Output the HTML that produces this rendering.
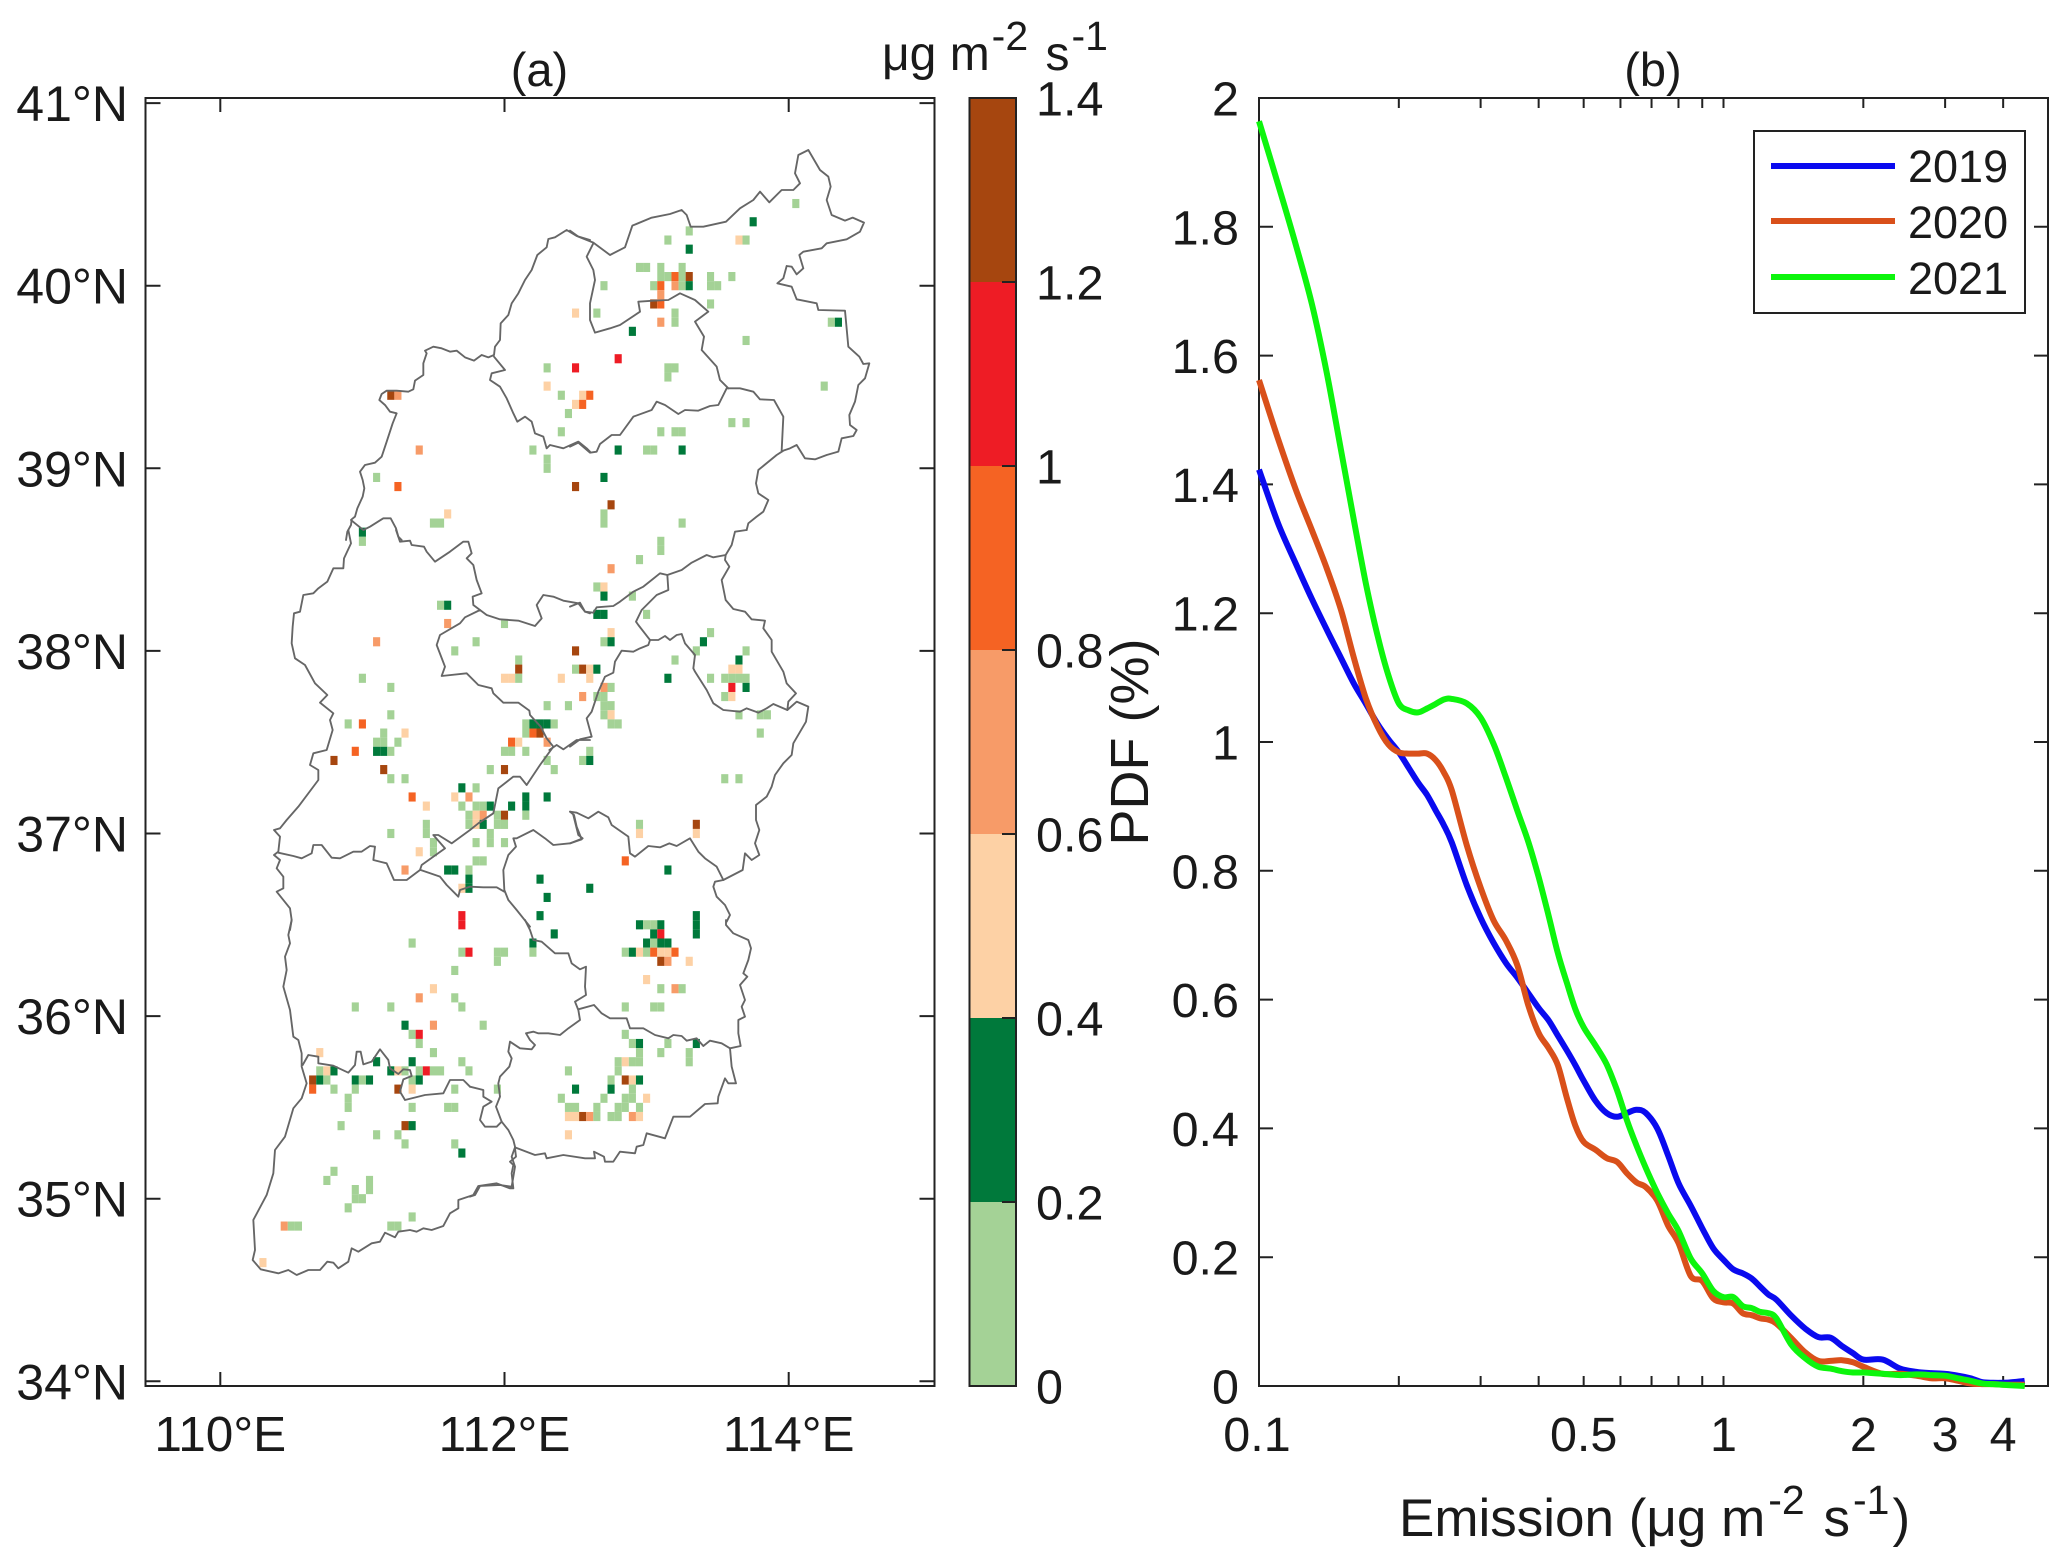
<!DOCTYPE html>
<html lang="en">
<head>
<meta charset="utf-8">
<title>Emission map and PDF</title>
<style>
html,body{margin:0;padding:0;background:#fff}
svg{display:block}
text{font-family:"Liberation Sans",sans-serif;fill:#1a1a1a}
</style>
</head>
<body>
<svg id="fig" xmlns="http://www.w3.org/2000/svg" width="2067" height="1565" viewBox="0 0 2067 1565">
  <rect width="2067" height="1565" fill="#fff"/>

  <g id="cell-layer"></g>

  <g fill="none" stroke="#666" stroke-width="5.6" stroke-linejoin="round" stroke-linecap="round">
    <g transform="translate(270 140) scale(.33333)">
      <polyline points="228,1200 232,1175 243,1155 245,1138 255,1130 262,1105 278,1070 283,1045 278,1020 270,995 285,975 315,968 335,950 350,905 368,850 380,820 360,815 345,795 328,780 335,762 350,752 380,752 415,755 430,748 435,722 460,705 460,670 470,640 465,632 490,620 515,625 540,635 560,632 585,652 612,662 635,645 655,652 672,645 675,620 690,600 692,550 715,525 725,490 745,460 765,420 785,390 802,345 830,322 835,297 855,292 890,270 920,288 960,300"/>
      <polyline points="243,1140 255,1150 280,1170 300,1160 340,1135 362,1135 378,1165 385,1190 395,1200"/>
      <polyline points="672,650 705,690 665,700 660,720 690,740 710,775 730,820 742,845 765,830 785,845 795,880 820,890 830,925 840,915 880,925 925,905 950,925 960,935"/>
    </g>
    <g transform="translate(570 140) scale(.33333)">
      <polyline points="0,272 25,290 70,308 120,345 165,322 187,257 245,233 300,222 335,210 350,225 362,260 400,260 468,245 510,205 550,180 570,155 598,187 635,150 670,150 690,130 675,100 685,45 715,30 750,90 775,110 782,140 770,180 785,225 825,242 848,233 882,248 870,275 830,298 770,310 755,325 700,335 688,345 700,385 680,403 665,380 650,378 640,415 622,430 665,440 680,478 740,490 745,510 825,512 835,620 868,650 880,672 898,670 885,715 865,735 855,785 838,825 840,855 860,870 850,888 815,895 805,935 770,945 735,958 705,955 680,915 660,925 640,932 620,945 565,990 558,1030 565,1060 595,1080 580,1115 560,1130 535,1150 530,1170"/>
      <polyline points="0,920 25,908 60,938 80,935 90,912 125,885 150,885 190,830 245,810 260,785 285,795 325,822 345,810 385,812 420,798 445,795 470,745 510,745 550,755 570,778 612,780 640,830 635,932"/>
      <polyline points="70,310 50,350 70,390 75,420 60,490 60,540 75,578 120,565 150,555 210,515 205,485 250,482 295,480 330,460 375,480 415,515 375,545 402,590 395,630 440,680 450,720 475,745"/>
    </g>
    <g transform="translate(570 530) scale(.33333)">
      <polyline points="530,0 495,5 485,45 467,75 465,90 478,110 455,150 467,210 490,237 525,245 545,268 585,272 580,295 605,330 605,365 640,425 650,460 678,490 655,515 652,540 680,515 715,530 708,575 670,640 665,675 640,700 615,735 605,770 590,800 558,825 558,870 568,900 555,940 568,975 545,990 525,970 518,1020 460,1050 435,1055 430,1070 440,1100 465,1125 480,1155 470,1175"/>
      <polyline points="652,540 610,522 590,535 565,548 530,535 510,545 460,540 430,520 410,480 375,425 370,415 375,375 345,340 335,312 320,315 300,330 285,318 265,330 240,330 205,285 198,275 215,240 260,195 295,180 292,135 270,130 245,150 220,170 190,185 150,215 130,228 80,232 70,248 45,245 30,218 0,230"/>
      <polyline points="467,75 430,82 410,75 365,98 335,120 292,135"/>
      <polyline points="240,330 235,345 210,355 190,365 155,362 135,395 130,428 105,440 85,485 65,545 50,565 65,620 30,628 0,650"/>
      <polyline points="0,845 20,848 55,865 85,845 115,862 125,885 175,920 180,970 195,980 235,948 270,952 298,940 320,948 360,925 385,965 405,985 440,1010 460,1050"/>
      <polyline points="0,940 35,928 20,890 12,855 0,845"/>
    </g>
    <g transform="translate(270 530) scale(.33333)">
      <polyline points="235,0 243,40 222,85 220,115 190,115 172,155 145,175 130,190 100,195 90,245 72,250 68,290 65,340 75,385 105,405 135,460 172,495 150,518 190,550 180,570 188,600 170,660 130,670 120,705 145,720 145,750 85,830 50,870 30,895 12,900 30,920 25,965 12,975 30,990 20,1015 40,1040 40,1075 20,1085 60,1135 65,1170 60,1200"/>
      <polyline points="25,968 70,978 95,985 125,970 130,945 155,945 185,983 210,985 250,965 275,965 300,948 315,950 310,990 350,1000 372,1050 410,1050 450,1020 455,1005 525,955 490,915 505,915 545,940 600,900 625,880 670,850 685,775 730,740 750,740 770,765 810,705 850,650 830,625 812,590 780,555 778,542 745,518 700,518 670,490 665,475 625,465 590,430 515,438 525,410 500,345 510,315 570,280 585,262 630,240 650,255 690,268 745,272 795,288 815,265 800,225 820,195 850,200 880,212 925,220 945,245 960,250"/>
      <polyline points="630,240 610,225 608,200 635,190 620,150 610,105 590,85 605,70 595,35 580,35 540,65 495,95 470,65 462,50 425,45 420,32 390,35 378,0"/>
      <polyline points="838,660 860,645 880,658 920,630 960,630"/>
      <polyline points="910,855 925,915 938,925 900,940 850,945 825,925 790,900 740,925 730,925 738,950 715,975 700,1020 703,1080 715,1110 740,1140 780,1190"/>
      <polyline points="452,1020 510,1040 530,1065 565,1100 570,1080 600,1070 640,1072 680,1072 703,1085"/>
    </g>
    <g transform="translate(470 920) scale(.33333)">
      <polyline points="165,0 180,30 190,60 215,65 255,100 295,100 305,130 330,148 348,140 345,200 348,225 315,245 325,270 330,300 295,325 270,345 235,340 205,340 190,335 168,340 180,360 195,375 185,388 150,385 120,365 115,395 125,415 118,440 90,470 85,490 90,530 78,560 95,605 115,630 130,660 135,680"/>
      <polyline points="325,268 372,255 395,280 420,295 470,295 480,325 520,325 555,345 595,355 610,345 635,348 650,362 680,355 700,378 720,362 755,370 780,385 812,378 805,340 805,300 825,290 815,260 825,240 810,195 832,170 820,160 835,120 843,85 835,60 790,40 768,15 768,0"/>
      <polyline points="780,385 785,440 798,490 775,490 765,475 745,530 743,550 705,552 660,590 610,590 585,655 530,640 520,675 500,680 495,700 450,695 430,725 405,725 402,710 372,695 375,715 345,715 280,705 230,715 225,700 195,705 135,682"/>
      <polyline points="135,682 125,710 135,740 125,800 90,795 30,798 15,825 0,830"/>
      <polyline points="0,500 40,510 40,530 65,545 40,560 30,600 45,620 80,620 95,605"/>
    </g>
    <g transform="translate(240 920) scale(.33333)">
      <polyline points="155,0 145,45 150,70 135,110 140,150 130,200 150,270 160,350 175,360 185,400 185,440 200,490 185,535 160,565 135,650 105,690 100,760 80,825 40,900 45,990 38,1020 62,1048 115,1060 145,1050 170,1065 205,1050 240,1050 262,1025 280,1028 295,1045 325,1025 335,985 355,995 395,970 420,965 435,938 465,952 475,935 510,930 530,935 550,925 575,930 610,918 630,880 655,865 655,840 700,825 715,798 770,790 810,805 820,805 815,760 820,735 810,725 828,710 825,685"/>
      <polyline points="188,435 205,405 235,410 235,430 280,437 325,458 345,435 350,395 362,395 370,433 395,425 420,388 445,420 450,445 475,462 490,448 510,450 515,468 490,478 480,515 495,540 555,525 610,520 630,480 670,480 690,500"/>
    </g>
  </g>

  <g id="map-axes"></g>
  <g id="colorbar"></g>
  <g id="pdf-axes"></g>
  <g id="pdf-lines"></g>

  <text x="539.5" y="86" font-size="47" text-anchor="middle">(a)</text>
  <text x="1653" y="86" font-size="47" text-anchor="middle">(b)</text>
  <text x="882" y="70" font-size="48">μg m<tspan font-size="41" dy="-20" dx="2">-2</tspan><tspan dy="20" dx="4"> s</tspan><tspan font-size="41" dy="-20" dx="2">-1</tspan></text>
  <text x="1399" y="1536" font-size="53">Emission (μg m<tspan font-size="41" dy="-22" dx="3">-2</tspan><tspan dy="22" dx="4"> s</tspan><tspan font-size="41" dy="-22" dx="3">-1</tspan><tspan dy="22" dx="3">)</tspan></text>
  <text transform="translate(1148 742) rotate(-90)" font-size="54" text-anchor="middle">PDF (%)</text>

  <g>
    <rect x="1754" y="131" width="271" height="182" fill="#fff" stroke="#222" stroke-width="2"/>
    <line x1="1771" x2="1895" y1="166" y2="166" stroke="#0a0aef" stroke-width="6"/>
    <text x="1908" y="182" font-size="45">2019</text>
    <line x1="1771" x2="1895" y1="221" y2="221" stroke="#d9501a" stroke-width="6"/>
    <text x="1908" y="238" font-size="45">2020</text>
    <line x1="1771" x2="1895" y1="277" y2="277" stroke="#0df50d" stroke-width="6"/>
    <text x="1908" y="294" font-size="45">2021</text>
  </g>
</svg>

<script>
// ---- Map data: [longitude, latitude, emission]
const cells=[
[114.05,40.45,.1],[113.75,40.35,.3],[113.3,40.3,.1],[113.15,40.25,.1],[113.65,40.25,.5],[113.7,40.25,.1],[113.3,40.2,.3],
[112.95,40.1,.1],[113,40.1,.1],[113.1,40.1,.1],[113.25,40.1,.1],
[113.1,40.05,.1],[113.15,40.05,.1],[113.2,40.05,.9],[113.25,40.05,.1],[113.3,40.05,1.3],[113.45,40.05,.1],[113.6,40.05,.1],
[112.7,40,.1],[113.05,40,.1],[113.1,40,.9],[113.2,40,.7],[113.25,40,.1],[113.3,40,.3],[113.45,40,.1],[113.5,40,.1],
[113.1,39.95,.7],[113.05,39.9,1.3],[113.1,39.9,.9],[113.45,39.9,.1],
[112.5,39.85,.5],[112.65,39.85,.1],[113.2,39.85,.1],[113.1,39.8,.7],[113.2,39.8,.1],[114.3,39.8,.1],[114.35,39.8,.3],
[112.9,39.75,.3],[113.7,39.7,.1],[112.8,39.6,1.1],[112.3,39.55,.1],[112.5,39.55,1.1],[113.15,39.55,.1],[113.2,39.55,.1],[113.15,39.5,.1],
[112.3,39.45,.5],[114.25,39.45,.1],[111.2,39.4,1.3],[111.25,39.4,.7],[112.4,39.4,.1],[112.55,39.4,.5],[112.6,39.4,.9],
[112.5,39.35,.5],[112.55,39.35,.9],[112.45,39.3,.1],[113.6,39.25,.1],[113.7,39.25,.1],
[112.4,39.2,.1],[113.1,39.2,.1],[113.2,39.2,.1],[113.25,39.2,.1],
[111.4,39.1,.7],[112.2,39.1,.1],[112.8,39.1,.3],[113,39.1,.1],[113.05,39.1,.1],[113.25,39.1,.3],
[112.3,39.05,.1],[112.3,39,.1],[111.1,38.95,.1],[112.7,38.95,.3],[111.25,38.9,.9],[112.5,38.9,1.3],
[112.75,38.8,1.3],[111.6,38.75,.5],[112.7,38.75,.1],[111.5,38.7,.1],[111.55,38.7,.1],[112.7,38.7,.1],[113.25,38.7,.1],
[111,38.65,.3],[111,38.6,.1],[113.1,38.6,.1],[113.1,38.55,.1],[112.95,38.5,.1],[112.75,38.45,.7],
[112.65,38.35,.1],[112.7,38.35,.5],[112.7,38.3,.3],[112.9,38.3,.1],
[111.55,38.25,.1],[111.6,38.25,.3],[112.65,38.2,.3],[112.7,38.2,.3],[113,38.2,.1],
[111.6,38.15,.7],[112,38.15,.1],[112.75,38.1,.5],[113.45,38.1,.1],
[111.1,38.05,.7],[111.8,38.05,.1],[112.7,38.05,.1],[112.75,38.05,.3],[113.4,38.05,.3],
[111.65,38,.1],[112.5,38,1.3],[113.35,38,.1],[113.7,38,.1],
[112.1,37.95,.1],[113.2,37.95,.1],[113.65,37.95,.3],
[112.1,37.9,1.3],[112.5,37.9,.1],[112.55,37.9,1.3],[112.6,37.9,.5],[112.65,37.9,.3],[113.6,37.9,.5],[113.65,37.9,.5],
[111,37.85,.1],[112,37.85,.5],[112.05,37.85,.5],[112.1,37.85,.1],[112.4,37.85,.5],[112.6,37.85,.5],[113.15,37.85,.3],[113.45,37.85,.1],[113.55,37.85,.1],[113.6,37.85,.1],[113.65,37.85,.1],[113.7,37.85,.1],
[111.2,37.8,.1],[112.7,37.8,.7],[112.75,37.8,.1],[113.6,37.8,1.1],[113.7,37.8,.3],
[112.55,37.75,.7],[112.65,37.75,.1],[112.7,37.75,.1],[113.55,37.75,.1],[113.6,37.75,.5],
[112.3,37.7,.1],[112.45,37.7,.1],[112.7,37.7,.1],[112.75,37.7,.1],
[111.2,37.65,.1],[112.7,37.65,.1],[112.75,37.65,.5],[113.65,37.65,.1],[113.8,37.65,.1],[113.85,37.65,.1],
[110.9,37.6,.1],[111,37.6,.9],[112.15,37.6,.1],[112.2,37.6,.3],[112.25,37.6,.3],[112.3,37.6,.3],[112.35,37.6,.1],[112.75,37.6,.1],[112.8,37.6,.1],
[111.15,37.55,.1],[111.3,37.55,.5],[112.15,37.55,.1],[112.2,37.55,.9],[112.25,37.55,1.3],[113.8,37.55,.1],
[111.1,37.5,.1],[111.15,37.5,.1],[111.25,37.5,.1],[112.05,37.5,.9],[112.1,37.5,.5],[112.3,37.5,.7],
[110.95,37.45,.9],[111.1,37.45,.3],[111.15,37.45,.3],[111.2,37.45,.1],[112,37.45,.1],[112.05,37.45,.1],[112.15,37.45,.1],[112.6,37.45,.1],
[110.8,37.4,1.3],[112.3,37.4,.1],[112.55,37.4,.1],[112.6,37.4,.3],
[111.15,37.35,1.3],[111.9,37.35,.1],[112,37.35,1.3],[112.35,37.35,.1],
[111.2,37.3,.1],[111.3,37.3,.1],[113.55,37.3,.1],[113.65,37.3,.1],
[111.7,37.25,.3],[111.8,37.25,.1],
[111.35,37.2,.9],[111.65,37.2,.5],[111.75,37.2,.7],[112.15,37.2,.3],[112.3,37.2,.3],
[111.45,37.15,.5],[111.7,37.15,.1],[111.8,37.15,.1],[111.85,37.15,.1],[111.9,37.15,.3],[112.05,37.15,.3],[112.15,37.15,.3],
[111.75,37.1,.1],[111.8,37.1,.5],[111.85,37.1,.7],[111.95,37.1,.1],[112,37.1,1.3],[112.15,37.1,.1],
[111.45,37.05,.1],[111.75,37.05,.1],[111.8,37.05,.5],[111.85,37.05,.3],[111.95,37.05,.1],[112,37.05,.1],[112.95,37.05,.1],[113.35,37.05,1.3],
[111.2,37,.1],[111.45,37,.1],[111.9,37,.1],[112.95,37,.5],[113.35,37,.5],
[111.5,36.95,.1],[111.8,36.95,.1],[111.9,36.95,.1],[112,36.95,.1],
[111.4,36.9,.5],[111.5,36.9,.1],[111.8,36.85,.1],[111.85,36.85,.1],[112.85,36.85,.9],
[111.3,36.8,.7],[111.6,36.8,.3],[111.65,36.8,.3],[111.75,36.8,.1],[113.15,36.8,.3],
[111.75,36.75,.3],[112.25,36.75,.3],[111.7,36.7,.5],[111.75,36.7,.3],[112.6,36.7,.3],[112.3,36.65,.3],
[111.7,36.55,1.1],[112.25,36.55,.3],[113.35,36.55,.3],
[111.7,36.5,1.1],[112.95,36.5,.3],[113,36.5,.1],[113.05,36.5,.1],[113.1,36.5,.3],[113.35,36.5,.3],
[112.35,36.45,.3],[113.05,36.45,.3],[113.1,36.45,1.1],[113.35,36.45,.3],
[111.35,36.4,.1],[112.2,36.4,.3],[113,36.4,.3],[113.05,36.4,.1],[113.1,36.4,.3],[113.15,36.4,.3],
[111.7,36.35,.1],[111.75,36.35,1.1],[111.95,36.35,.1],[112,36.35,.1],[112.2,36.35,.1],[112.85,36.35,.1],[112.9,36.35,.3],[112.95,36.35,.5],[113,36.35,.1],[113.05,36.35,.9],[113.1,36.35,.5],[113.15,36.35,.5],[113.2,36.35,.9],
[111.95,36.3,.1],[113.1,36.3,1.3],[113.15,36.3,.7],[113.3,36.3,.5],
[111.65,36.25,.1],[111.5,36.15,.5],[113,36.2,.5],[113.1,36.15,.1],[113.2,36.15,.7],[113.25,36.15,.1],
[111.4,36.1,.7],[111.65,36.1,.1],
[110.95,36.05,.1],[111.2,36.05,.1],[111.7,36.05,.1],[112.85,36.05,.1],[113.05,36.05,.1],[113.1,36.05,.1],
[111.3,35.95,.3],[111.5,35.95,.7],[111.85,35.95,.1],
[111.35,35.9,.1],[111.4,35.9,1.1],[112.85,35.9,.1],
[111.4,35.85,.1],[112.9,35.85,.1],[112.95,35.85,.3],[113.15,35.85,.1],[113.35,35.85,.3],
[110.7,35.8,.5],[111.5,35.8,.1],[112.95,35.8,.1],[113.1,35.8,.1],[113.3,35.8,.1],
[111.1,35.75,.3],[111.35,35.75,.3],[111.7,35.75,.1],[112.8,35.75,.1],[112.85,35.75,.5],[112.9,35.75,.1],[112.95,35.75,.1],[113.3,35.75,.1],
[110.7,35.7,.1],[110.75,35.7,.5],[110.8,35.7,.3],[111.2,35.7,.3],[111.25,35.7,.5],[111.3,35.7,.1],[111.4,35.7,.1],[111.45,35.7,1.1],[111.5,35.7,.1],[111.55,35.7,.1],[111.75,35.7,.1],[112.45,35.7,.1],[112.8,35.7,.1],
[110.65,35.65,1.3],[110.7,35.65,.3],[110.75,35.65,.1],[110.95,35.65,.3],[111,35.65,.1],[111.05,35.65,.3],[111.35,35.65,.1],[111.4,35.65,.3],[112.75,35.65,.1],[112.85,35.65,1.3],[112.9,35.65,.5],[112.95,35.65,.3],
[110.65,35.6,.9],[110.8,35.6,.1],[110.95,35.6,.1],[111.25,35.6,1.3],[111.35,35.6,.5],[111.65,35.6,.1],[111.95,35.6,.1],[112.5,35.6,.3],[112.75,35.6,.3],[112.9,35.6,.1],
[110.9,35.55,.1],[112.4,35.55,.1],[112.7,35.55,.1],[112.85,35.55,.1],[112.9,35.55,.1],[113,35.55,.5],
[110.9,35.5,.1],[111.35,35.5,.1],[111.6,35.5,.1],[111.65,35.5,.1],[112.45,35.5,.1],[112.5,35.5,.1],[112.65,35.5,.1],[112.8,35.5,.1],[112.85,35.5,.1],[112.95,35.5,.1],
[112.45,35.45,.5],[112.5,35.45,.5],[112.55,35.45,1.3],[112.6,35.45,.7],[112.65,35.45,.1],[112.75,35.45,.1],[112.8,35.45,.1],[112.9,35.45,.7],[112.95,35.45,.5],
[110.85,35.4,.1],[111.3,35.4,1.3],[111.35,35.4,.3],
[111.1,35.35,.1],[111.25,35.35,.1],[112.45,35.35,.5],
[111.3,35.3,.1],[111.65,35.3,.1],[111.7,35.25,.3],
[110.8,35.15,.1],[110.75,35.1,.1],[111.05,35.1,.1],[110.95,35.05,.1],[111.05,35.05,.1],
[110.95,35,.1],[111,35,.1],[110.9,34.95,.1],[111.35,34.9,.1],
[110.45,34.85,.7],[110.5,34.85,.1],[110.55,34.85,.1],[111.2,34.85,.1],[111.25,34.85,.1],
[110.3,34.65,.5]
];
const lonTicks=[110,112,114];
const latTicks=[34,35,36,37,38,39,40,41];
const colorLevels=[0,0.2,0.4,0.6,0.8,1,1.2,1.4];
const colorStops=['#a4d296','#00793b','#fdd1a5','#f79b68','#f56323','#ee1c25','#a6460f'];

// ---- PDF data
const emission=[0.1,0.11,0.12,0.13,0.14,0.15,0.16,0.17,0.18,0.19,0.2,0.21,0.22,0.23,0.24,0.25,0.26,0.28,0.3,0.32,0.34,0.36,0.38,0.4,0.42,0.44,0.46,0.48,0.5,0.53,0.56,0.59,0.62,0.65,0.68,0.72,0.76,0.8,0.85,0.9,0.95,1,1.05,1.1,1.15,1.2,1.25,1.3,1.4,1.5,1.6,1.7,1.8,1.9,2,2.2,2.4,2.6,2.8,3,3.2,3.4,3.6,3.8,4,4.2,4.45];
const pdf2019=[1.423,1.339,1.277,1.222,1.174,1.131,1.091,1.059,1.028,1.004,.984,.96,.937,.918,.894,.871,.844,.778,.727,.688,.657,.634,.61,.587,.568,.544,.521,.498,.474,.443,.424,.418,.424,.429,.424,.4,.358,.315,.28,.245,.214,.196,.181,.175,.167,.154,.142,.134,.109,.089,.076,.075,.062,.051,.041,.041,.027,.022,.02,.019,.016,.012,.006,.005,.005,.006,.008];
const pdf2020=[1.562,1.47,1.392,1.329,1.269,1.206,1.131,1.067,1.024,.996,.984,.982,.982,.982,.972,.953,.925,.84,.774,.723,.692,.653,.591,.548,.525,.498,.447,.404,.379,.367,.354,.348,.33,.316,.309,.288,.249,.222,.171,.163,.136,.13,.128,.113,.11,.105,.103,.097,.074,.052,.039,.039,.04,.037,.03,.019,.019,.016,.012,.012,.008,.004,.003,.003,.002,.002,.002];
const pdf2021=[1.964,1.865,1.772,1.68,1.572,1.455,1.345,1.245,1.165,1.103,1.06,1.049,1.046,1.052,1.059,1.066,1.067,1.06,1.038,.997,.945,.893,.845,.79,.731,.672,.626,.585,.557,.529,.5,.459,.412,.373,.339,.3,.268,.241,.198,.175,.148,.138,.138,.124,.121,.115,.113,.105,.064,.043,.03,.027,.023,.021,.021,.019,.017,.018,.017,.016,.012,.008,.004,.003,.002,.001,0];
const emissionTicks=[0.1,0.5,1,2,3,4];
const emissionMinorTicks=[0.2,0.3,0.4,0.5,0.6,0.7,0.8,0.9,1,2,3,4];
const pdfTicks=[0,0.2,0.4,0.6,0.8,1,1.2,1.4,1.6,1.8,2];

// ---- Axis functions
const mapLeft=145.5,mapRight=934.5,plotTop=98,plotBottom=1386;
const lonX=v=>220.3+(v-110)*142.1;
const latY=v=>285.7+(40-v)*182.6;
const cbLeft=969.5,cbRight=1016;
const cbY=v=>plotBottom-v*920;
const pdfLeft=1259,pdfRight=2048;
const emX=v=>1723.5+464.5*Math.log10(v);
const pdfY=v=>plotBottom-v*644;
const SVGNS='http://www.w3.org/2000/svg';

function mk(parent,tag,attrs,txt){
  const el=document.createElementNS(SVGNS,tag);
  for(const k in attrs)el.setAttribute(k,attrs[k]);
  if(txt!==undefined)el.textContent=txt;
  parent.appendChild(el);
  return el;
}
function colorFor(v){
  for(let i=0;i<colorStops.length;i++){if(v<colorLevels[i+1])return colorStops[i];}
  return colorStops[colorStops.length-1];
}

// Map cells
const cellLayer=document.getElementById('cell-layer');
cells.forEach(c=>{
  const w=lonX(0.05+110)-lonX(110),h=latY(40)-latY(40.05);
  const el=mk(cellLayer,'rect',{x:lonX(c[0])-w/2,y:latY(c[1])-h/2,width:w,height:h,fill:colorFor(c[2])});
  
  
});

// Map axes
const mapAxes=document.getElementById('map-axes');
const mapFrame=mk(mapAxes,'rect',{x:mapLeft,y:plotTop,width:mapRight-mapLeft,height:plotBottom-plotTop,fill:'none',stroke:'#222','stroke-width':2});


lonTicks.forEach(v=>{
  const x=lonX(v);
  const a=mk(mapAxes,'path',{d:`M${x} ${plotBottom}v-14M${x} ${plotTop}v14`,stroke:'#222','stroke-width':2,fill:'none'});
  
  
  const t=mk(mapAxes,'text',{x:x,y:1451,'font-size':49.5,'text-anchor':'middle'},v+'°E');
  
  
});
latTicks.forEach(v=>{
  const y=latY(v);
  const a=mk(mapAxes,'path',{d:`M${mapLeft} ${y}h15M${mapRight} ${y}h-15`,stroke:'#222','stroke-width':2,fill:'none'});
  
  
  const t=mk(mapAxes,'text',{x:128,y:y+18,'font-size':50,'text-anchor':'end'},v+'°N');
  
  
});

// Colorbar
const cb=document.getElementById('colorbar');
colorStops.forEach((col,i)=>{
  const y1=cbY(colorLevels[i+1]),y0=cbY(colorLevels[i]);
  const r=mk(cb,'rect',{x:cbLeft,y:y1,width:cbRight-cbLeft,height:y0-y1,fill:col});
  
  
});
const cbFrame=mk(cb,'rect',{x:cbLeft,y:plotTop,width:cbRight-cbLeft,height:plotBottom-plotTop,fill:'none',stroke:'#222','stroke-width':2});


colorLevels.forEach(v=>{
  const y=cbY(v);
  if(v>0&&v<1.4){
    const a=mk(cb,'line',{x1:cbRight-14,x2:cbRight,y1:y,y2:y,stroke:'#222','stroke-width':2});
    
    
  }
  const t=mk(cb,'text',{x:1036,y:y+17.5,'font-size':48.5},String(v));
  
  
});

// PDF axes
const pdfAxes=document.getElementById('pdf-axes');
const pdfFrame=mk(pdfAxes,'rect',{x:pdfLeft,y:plotTop,width:pdfRight-pdfLeft,height:plotBottom-plotTop,fill:'none',stroke:'#222','stroke-width':2});


emissionMinorTicks.forEach(v=>{
  const x=emX(v);
  const a=mk(pdfAxes,'path',{d:`M${x} ${plotBottom}v-10M${x} ${plotTop}v10`,stroke:'#222','stroke-width':2,fill:'none'});
  
  
});
emissionTicks.forEach(v=>{
  const t=mk(pdfAxes,'text',{x:emX(v)-(v===0.1?2:0),y:1451,'font-size':48.5,'text-anchor':'middle'},String(v));
  
  
});
pdfTicks.forEach(v=>{
  const y=pdfY(v);
  if(v>0&&v<2){
    const a=mk(pdfAxes,'path',{d:`M${pdfLeft} ${y}h14M${pdfRight} ${y}h-14`,stroke:'#222','stroke-width':2,fill:'none'});
    
    
  }
  const t=mk(pdfAxes,'text',{x:1239,y:y+17.5,'font-size':48.5,'text-anchor':'end'},String(v));
  
  
});

// PDF lines: smooth Catmull-Rom curve through the data points
const pdfLines=document.getElementById('pdf-lines');
function drawSeries(values,color){
  const p=emission.map((e,i)=>[emX(e),pdfY(values[i])]);
  let d='M'+p[0][0].toFixed(1)+' '+p[0][1].toFixed(1);
  for(let i=0;i<p.length-1;i++){
    const a=p[Math.max(i-1,0)],b=p[i],c=p[i+1],e=p[Math.min(i+2,p.length-1)];
    const c1x=b[0]+(c[0]-a[0])/6,c1y=b[1]+(c[1]-a[1])/6;
    const c2x=c[0]-(e[0]-b[0])/6,c2y=c[1]-(e[1]-b[1])/6;
    d+='C'+c1x.toFixed(1)+' '+c1y.toFixed(1)+' '+c2x.toFixed(1)+' '+c2y.toFixed(1)+' '+c[0].toFixed(1)+' '+c[1].toFixed(1);
  }
  return mk(pdfLines,'path',{d:d,fill:'none',stroke:color,'stroke-width':6,'stroke-linejoin':'round'});
}
const line2019=drawSeries(pdf2019,'#0a0aef');


const line2020=drawSeries(pdf2020,'#d9501a');


const line2021=drawSeries(pdf2021,'#0df50d');


</script>
</body>
</html>
